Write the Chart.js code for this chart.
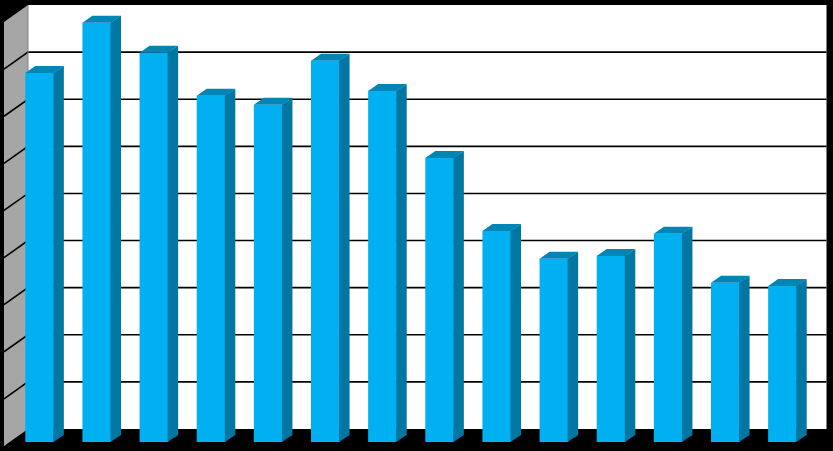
<!DOCTYPE html>
<html>
<head>
<meta charset="utf-8">
<style>html,body{margin:0;padding:0;background:#000}canvas{display:block}</style>
<script src="https://cdn.jsdelivr.net/npm/chart.js@4"></script>
</head>
<body>
<canvas id="c" width="833" height="451"></canvas>
<script>
const categories = ["1","2","3","4","5","6","7","8","9","10","11","12","13","14"];
const values = [7.83, 8.90, 8.26, 7.35, 7.16, 8.09, 7.45, 6.03, 4.48, 3.89, 3.95, 4.42, 3.38, 3.31];
const tickMax = 9;

const wallShift = {back: {x: 17, y: -13}, front: {x: -7, y: 4}};
const backWallTrim = 1.5;
const barDepth = {x: 10, y: -7};

const poly = (ctx, pts, fill) => {
  ctx.beginPath();
  pts.forEach((p, i) => i ? ctx.lineTo(p[0], p[1]) : ctx.moveTo(p[0], p[1]));
  ctx.closePath();
  ctx.fillStyle = fill;
  ctx.fill();
};

const walls = {
  id: 'walls',
  beforeDatasetsDraw(chart) {
    const {ctx, chartArea: a, scales: {y}} = chart;
    const B = wallShift.back, F = wallShift.front;
    const bottom = y.getPixelForValue(0), top = y.getPixelForValue(tickMax);
    const wallRight = a.right + B.x - backWallTrim;
    ctx.save();
    ctx.fillStyle = '#ffffff';
    ctx.fillRect(a.left + B.x, top + B.y, wallRight - a.left - B.x, bottom - top);
    poly(ctx, [
      [a.left + B.x, top + B.y], [a.left + B.x, bottom + B.y],
      [a.left + F.x, bottom + F.y], [a.left + F.x, top + F.y]
    ], '#a6a6a6');
    ctx.strokeStyle = '#000000';
    ctx.lineWidth = 1.6;
    for (let v = 1; v < tickMax; v++) {
      const py = y.getPixelForValue(v);
      ctx.beginPath();
      ctx.moveTo(a.left + F.x, py + F.y);
      ctx.lineTo(a.left + B.x, py + B.y);
      ctx.lineTo(wallRight, py + B.y);
      ctx.stroke();
    }
    ctx.strokeStyle = '#808080';
    ctx.lineWidth = 1;
    ctx.beginPath();
    ctx.moveTo(a.left + B.x, top + B.y);
    ctx.lineTo(a.left + B.x, bottom + B.y);
    ctx.stroke();
    ctx.restore();
  }
};

const bars3d = {
  id: 'bars3d',
  afterDatasetsDraw(chart) {
    const {ctx} = chart;
    const D = barDepth;
    chart.getDatasetMeta(0).data.forEach(b => {
      const l = b.x - b.width / 2, r = b.x + b.width / 2, t = b.y, g = b.base;
      poly(ctx, [[r - 0.5, t], [r + D.x, t + D.y], [r + D.x, g + D.y], [r - 0.5, g]], '#0076a3');
      poly(ctx, [[l, t], [l + D.x, t + D.y], [r + D.x, t + D.y], [r, t]], '#0085b5');
    });
  }
};

new Chart(document.getElementById('c'), {
  type: 'bar',
  data: {
    labels: categories,
    datasets: [{
      data: values,
      backgroundColor: '#00b0f0',
      borderWidth: 0,
      barPercentage: 0.5,
      categoryPercentage: 1
    }]
  },
  options: {
    responsive: false,
    animation: false,
    devicePixelRatio: 1,
    layout: {padding: {left: 11, right: 22, top: 18, bottom: 9}},
    plugins: {legend: {display: false}, tooltip: {enabled: false}, title: {display: false}},
    scales: {
      x: {display: false, grid: {display: false}},
      y: {display: false, min: 0, max: tickMax, grid: {display: false}, ticks: {stepSize: 1}}
    }
  },
  plugins: [walls, bars3d]
});
</script>
</body>
</html>
